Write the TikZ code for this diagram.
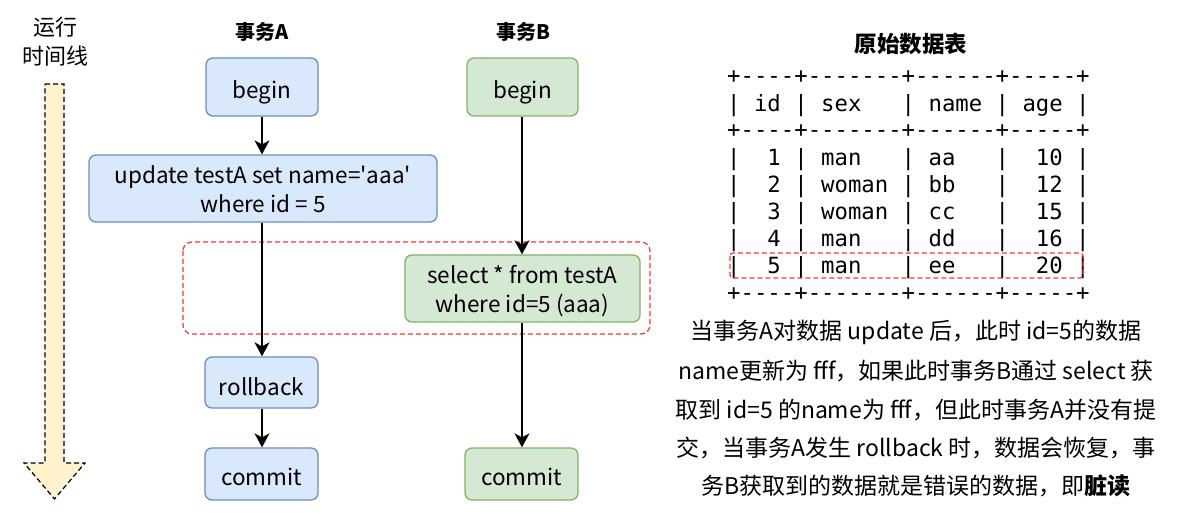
\documentclass[tikz,border=0pt]{standalone}
\usepackage{fontspec}
\setmainfont{Noto Sans CJK SC}
\setmonofont{DejaVu Sans Mono}
\usetikzlibrary{arrows.meta}
\definecolor{blueF}{HTML}{DAE8FC}
\definecolor{blueE}{HTML}{6C8EBF}
\definecolor{greenF}{HTML}{D5E8D4}
\definecolor{greenE}{HTML}{82B366}
\definecolor{timeF}{HTML}{FFF2CC}
\definecolor{redD}{HTML}{FF3333}
\newcommand\dropby[2]{\raisebox{-#1}[\height][\depth]{#2}}
\newcommand\twolines[2]{\dropby{4pt}{\begin{tabular}{@{}c@{}}#1\\#2\end{tabular}}}
\tikzset{
  boxbase/.style={rounded corners=7pt, line width=1.3pt, align=center, inner sep=0pt,
    font=\fontsize{22.5}{29}\selectfont},
  boxA/.style={boxbase, draw=blueE, fill=blueF},
  boxB/.style={boxbase, draw=greenE, fill=greenF},
  flow/.style={line width=1.3pt, -{Stealth[length=14pt,width=15pt,inset=4pt]}},
  tline/.style={anchor=base west, inner sep=0pt, font=\ttfamily\fontsize{22.3}{27}\selectfont},
  para/.style={inner sep=0pt, font=\fontsize{23}{26}\selectfont},
  ttl/.style={font=\bfseries\fontsize{20}{24}\selectfont},
  reddash/.style={draw=redD, dashed, dash pattern=on 5pt off 3pt, line width=1.2pt}
}
\begin{document}
\begin{tikzpicture}[x=1pt,y=-1pt]
\useasboundingbox (0,0) rectangle (1200,526);
% timeline
\node[align=center, font=\fontsize{22}{29}\selectfont] (tl) at (55,42) {运行\\时间线};
\draw[fill=timeF, dashed, dash pattern=on 5pt off 3pt, line width=1.2pt]
  (45,84) -- (64,84) -- (64,463) -- (85,463) -- (54.5,499) -- (24,463) -- (45,463) -- cycle;
% titles
\node[ttl] (tA) at (262,32) {事务A};
\node[ttl] (tB) at (523,32) {事务B};
% red highlight
\draw[reddash, rounded corners=9pt] (183,242) rectangle (650,334);
% boxes A
\node[boxA, minimum width=112pt, minimum height=58pt] (beginA) at (262,87) {\dropby{5pt}{begin}};
\node[boxA, minimum width=348pt, minimum height=67pt] (upd) at (263,188.5) {\twolines{update testA set name=\textquotesingle aaa\textquotesingle}{where id = 5}};
\node[boxA, minimum width=113pt, minimum height=51pt] (rb) at (261.5,382.5) {\dropby{4pt}{rollback}};
\node[boxA, minimum width=113pt, minimum height=52pt] (comA) at (261.5,474) {\dropby{3pt}{commit}};
% boxes B
\node[boxB, minimum width=111pt, minimum height=58pt] (beginB) at (522.5,87) {\dropby{5pt}{begin}};
\node[boxB, minimum width=235pt, minimum height=67pt] (sel) at (522.5,288.5) {\twolines{select * from testA}{where id=5 (aaa)}};
\node[boxB, minimum width=113pt, minimum height=52pt] (comB) at (521.5,474) {\dropby{3pt}{commit}};
% arrows
\draw[flow] (beginA.south -| 262,0) -- (upd.north -| 262,0);
\draw[flow] (upd.south -| 262,0) -- (rb.north -| 262,0);
\draw[flow] (rb.south -| 262,0) -- (comA.north -| 262,0);
\draw[flow] (beginB.south -| 522,0) -- (sel.north -| 522,0);
\draw[flow] (sel.south -| 522,0) -- (comB.north -| 522,0);
% table
\node[font=\bfseries\fontsize{22.5}{26}\selectfont] (tbl) at (911,44) {原始数据表};
\node[tline] (r0) at (727,84) {+----+-------+------+-----+};
\node[tline] (r1) at (727,112) {|~id~|~sex~~~|~name~|~age~|};
\node[tline] (r2) at (727,138) {+----+-------+------+-----+};
\node[tline] (r3) at (727,166) {|~~1~|~man~~~|~aa~~~|~~10~|};
\node[tline] (r4) at (727,193) {|~~2~|~woman~|~bb~~~|~~12~|};
\node[tline] (r5) at (727,220) {|~~3~|~woman~|~cc~~~|~~15~|};
\node[tline] (r6) at (727,247) {|~~4~|~man~~~|~dd~~~|~~16~|};
\node[tline] (r7) at (727,274) {|~~5~|~man~~~|~ee~~~|~~20~|};
\node[tline] (r8) at (727,301) {+----+-------+------+-----+};
\draw[reddash, rounded corners=3pt] (730,253) rectangle (1083,278);
% paragraph
\node[para] (p1) at (916,332) {当事务A对数据 update 后，此时 id=5的数据};
\node[para] (p2) at (916,371) {name更新为 fff，如果此时事务B通过 select 获};
\node[para] (p3) at (916,410) {取到 id=5 的name为 fff，但此时事务A并没有提};
\node[para] (p4) at (916,448) {交，当事务A发生 rollback 时，数据会恢复，事};
\node[para] (p5) at (916,486) {务B获取到的数据就是错误的数据，即\textbf{脏读}};
\end{tikzpicture}
\end{document}
